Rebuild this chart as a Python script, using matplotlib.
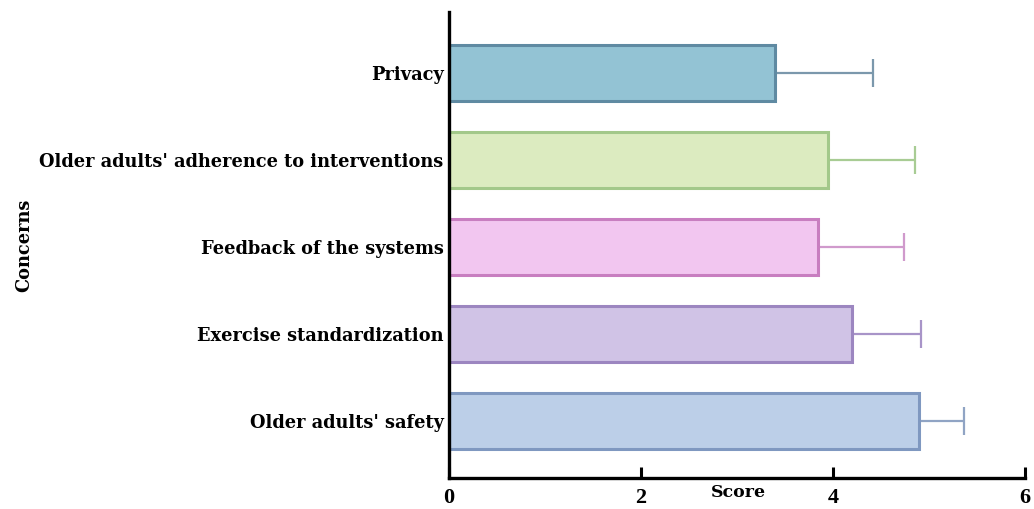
import matplotlib
matplotlib.use("Agg")
import matplotlib.pyplot as plt

categories = ["Older adults' safety", "Exercise standardization", "Feedback of the systems",
              "Older adults' adherence to interventions", "Privacy"]
scores = [4.90, 4.20, 3.84, 3.95, 3.40]
errors = [0.46, 0.72, 0.90, 0.90, 1.02]
fill_colors = ["#bccfe8", "#d0c3e6", "#f2c6f0", "#dcebc0", "#93c3d4"]
edge_colors = ["#7f98c0", "#9c86c0", "#c87ec0", "#a3c88a", "#5f8aa2"]
err_colors = ["#90a4c4", "#a894c8", "#d09acc", "#a8cc94", "#7b98ac"]
x_ticks = [0, 2, 4, 6]

plt.rcParams['font.family'] = ['DejaVu Serif', 'Liberation Serif']
plt.rcParams['font.weight'] = 'bold'

fig = plt.figure(figsize=(10.34, 5.09), dpi=100)
ax = fig.add_axes([0.4342, 0.0609, 0.5571, 0.9155])

ypos = list(range(len(categories)))
ax.barh(ypos, scores, height=0.64, color=fill_colors, edgecolor=edge_colors,
        linewidth=2.2, zorder=2)
for y, s, e, c in zip(ypos, scores, errors, err_colors):
    ax.errorbar([s], [y], xerr=[[0], [e]], fmt='none', ecolor=c,
                elinewidth=1.6, capsize=10, capthick=1.6, zorder=1)

ax.set_xlim(0, 6)
ax.set_ylim(-0.655, 4.70)
ax.set_xticks(x_ticks)
ax.set_xticklabels([str(t) for t in x_ticks], fontsize=16, fontweight='bold',
                   family=['Liberation Serif'])
ax.set_yticks(ypos)
ax.set_yticklabels(categories, fontsize=12.8, fontweight='bold')

for side in ['top', 'right']:
    ax.spines[side].set_visible(False)
for side in ['left', 'bottom']:
    ax.spines[side].set_linewidth(2.4)
    ax.spines[side].set_color('black')

ax.tick_params(axis='x', direction='in', length=8, width=2.2, pad=7)
ax.tick_params(axis='y', direction='in', length=8, width=2.2, pad=4)

ax.set_xlabel("Score", fontsize=12.5, fontweight='bold')
ax.xaxis.set_label_coords(0.502, -0.012)
ax.xaxis.label.set_verticalalignment('top')
ax.set_ylabel("Concerns", fontsize=12.8, fontweight='bold')
ax.yaxis.set_label_coords(-0.722, 0.5)

fig.savefig("out.png", dpi=100)
